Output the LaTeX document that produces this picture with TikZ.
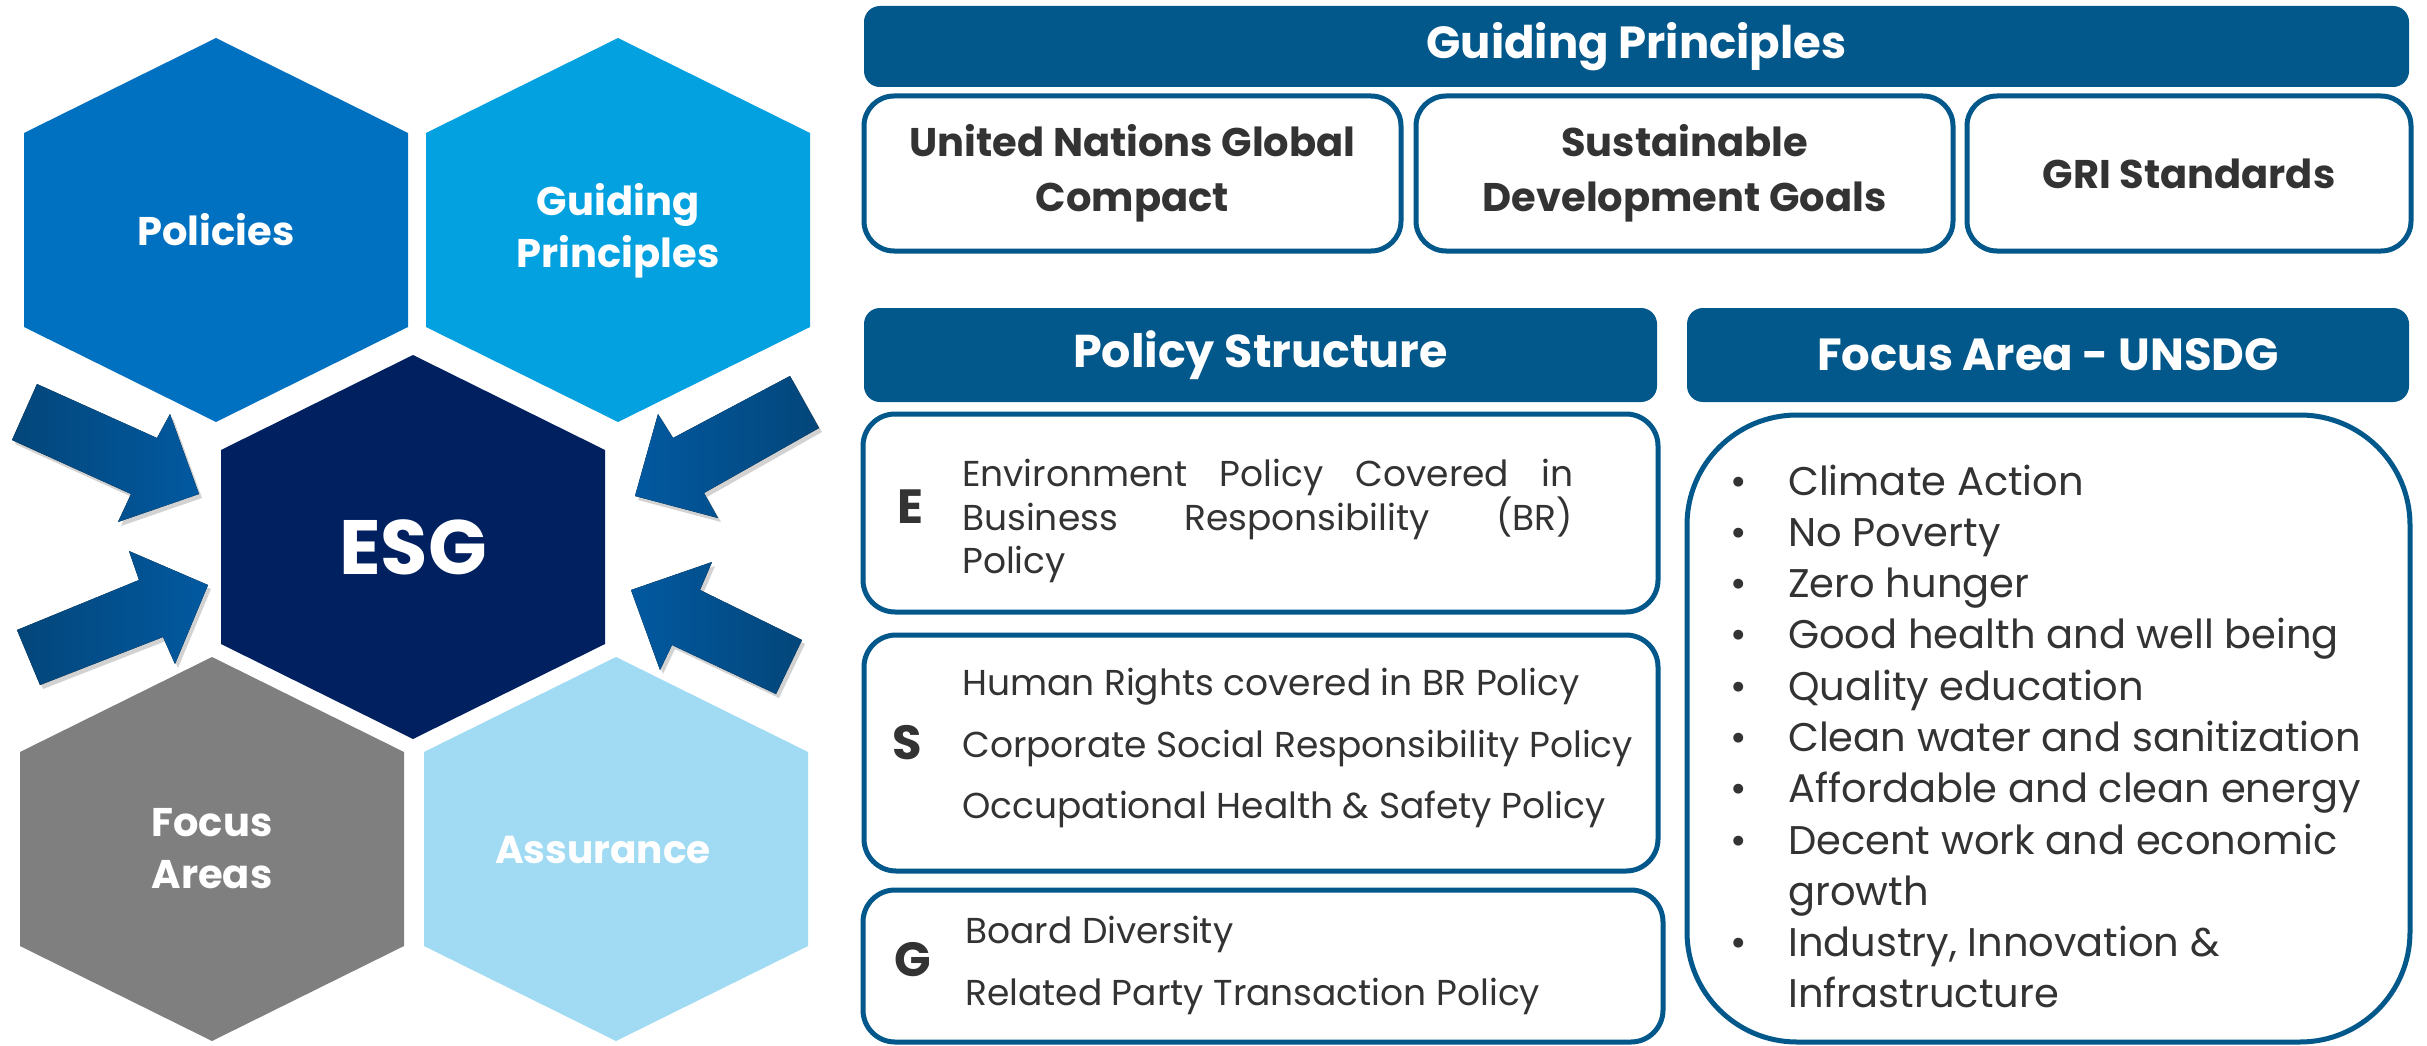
\documentclass[tikz,border=0pt]{standalone}
\usepackage{fontspec}
\setmainfont{Poppins}
\usetikzlibrary{shadows}
\definecolor{cPol}{HTML}{0070C0}
\definecolor{cGui}{HTML}{03A1E0}
\definecolor{cEsg}{HTML}{002060}
\definecolor{cFoc}{HTML}{7F7F7F}
\definecolor{cAss}{HTML}{A1DAF3}
\definecolor{cHead}{HTML}{02578B}
\definecolor{cArrA}{HTML}{03467A}
\definecolor{cArrB}{HTML}{0259A0}
\definecolor{cTxt}{HTML}{333333}
\tikzset{
  hexa/.pic={\path[pic actions] (0,-192) -- (192,-97) -- (192,97) -- (0,192) -- (-192,97) -- (-192,-97) -- cycle;},
  hexlabel/.style={text=white, font=\fontsize{40}{52}\selectfont\bfseries, align=center},
  header/.style={fill=cHead, rounded corners=16pt, text=white, font=\fontsize{45}{54}\selectfont\bfseries, inner sep=0pt},
  gbox/.style={draw=cHead, line width=5pt, fill=white, rounded corners=30pt, text=cTxt, font=\fontsize{40}{55}\selectfont\bfseries, align=center, inner sep=0pt, minimum height=155pt},
  pbox/.style={draw=cHead, line width=5pt, fill=white, rounded corners=32pt, inner sep=0pt},
  letter/.style={text=cTxt, font=\fontsize{48}{48}\selectfont\bfseries},
  ptext/.style={text=cTxt, font=\fontsize{36}{44}\selectfont, anchor=base west, inner sep=0pt},
  ftext/.style={text=cTxt, font=\fontsize{40}{51}\selectfont, anchor=base west, inner sep=0pt},
  blockarrow/.style={drop shadow={opacity=0.35, shadow xshift=3pt, shadow yshift=-4pt}},
}
\begin{document}
\begin{tikzpicture}[x=1pt,y=-1pt]
\useasboundingbox (0,0) rectangle (2427,1046);
\fill[white] (0,0) rectangle (2427,1046);
% hexagons
\pic[fill=cPol] at (216,230) {hexa};
\pic[fill=cGui] at (618,230) {hexa};
\pic[fill=cEsg] at (413,547) {hexa};
\pic[fill=cFoc] at (212,849) {hexa};
\pic[fill=cAss] at (616,849) {hexa};
\node[hexlabel] (pol) at (216,230) {Policies};
\node[hexlabel] (gui) at (618,231) {Guiding\\Principles};
\node[hexlabel, font=\fontsize{77}{79}\selectfont\bfseries] (esg) at (413,547) {ESG};
\node[hexlabel] (foc) at (212,849) {Focus\\Areas};
\node[hexlabel, font=\fontsize{39}{52}\selectfont\bfseries] (ass) at (603,850) {Assurance};
% block arrows
\fill[blockarrow, left color=cArrA, right color=cArrB] (37,384) -- (157,438) -- (170,414) -- (199,494) -- (118,522) -- (131,494) -- (12,440) -- cycle;
\fill[blockarrow, left color=cArrA, right color=cArrB] (17,630) -- (139,580) -- (129,551) -- (208,585) -- (175,664) -- (163,637) -- (40,685) -- cycle;
\fill[blockarrow, left color=cArrB, right color=cArrA] (790,376) -- (673,438) -- (658,414) -- (635,496) -- (718,518) -- (704,493) -- (819,428) -- cycle;
\fill[blockarrow, left color=cArrB, right color=cArrA] (802,640) -- (700,590) -- (712,562) -- (631,590) -- (660,670) -- (672,645) -- (776,694) -- cycle;
% guiding principles
\node[header, minimum width=1545pt, minimum height=81pt] (gph) at (1636.5,46.5) {Guiding Principles};
\node[gbox, minimum width=537pt] (ungc) at (1132.5,173.5) {United Nations Global\\Compact};
\node[gbox, minimum width=537pt] (sdg) at (1684.5,173.5) {Sustainable\\Development Goals};
\node[gbox, minimum width=444pt] (gri) at (2189,173.5) {GRI Standards};
% policy structure
\node[header, font=\fontsize{46}{54}\selectfont\bfseries, minimum width=793pt, minimum height=94pt] (psh) at (1260.5,355) {Policy Structure};
\node[pbox, minimum width=795pt, minimum height=198pt] (ebox) at (1260.5,513) {};
\node[pbox, minimum width=794pt, minimum height=236pt] (sbox) at (1261,753) {};
\node[pbox, minimum width=800pt, minimum height=152pt] (gbx) at (1263,966) {};
\node[letter] (eL) at (910,507) {E};
\node[letter] (sL) at (907,743) {S};
\node[letter] (gL) at (913,960) {G};
\node[ptext] (e1) at (962,486) {\makebox[611pt][s]{Environment Policy Covered in}};
\node[ptext] (e2) at (962,530) {\makebox[611pt][s]{Business Responsibility (BR)}};
\node[ptext] (e3) at (962,573) {Policy};
\node[ptext] (s1) at (962,695) {Human Rights covered in BR Policy};
\node[ptext] (s2) at (962,757) {Corporate Social Responsibility Policy};
\node[ptext] (s3) at (962,818) {Occupational Health \& Safety Policy};
\node[ptext] (g1) at (965,943) {Board Diversity};
\node[ptext] (g2) at (965,1005) {Related Party Transaction Policy};
% focus area
\node[header, minimum width=722pt, minimum height=94pt] (fah) at (2048,355) {Focus Area - UNSDG};
\node[pbox, rounded corners=110pt, minimum width=723pt, minimum height=627pt] (fbox) at (2048.5,728.5) {};
\foreach \t [count=\i] in {Climate Action, No Poverty, Zero hunger, Good health and well being, Quality education, Clean water and sanitization, Affordable and clean energy, Decent work and economic}{
  \node[ftext] (b\i) at (1730,{495+51.3*(\i-1)}) {\textbullet};
  \node[ftext] (f\i) at (1788,{495+51.3*(\i-1)}) {\t};
}
\node[ftext] (f9) at (1788,905) {growth};
\node[ftext] (b10) at (1730,956) {\textbullet};
\node[ftext] (f10) at (1788,956) {Industry, Innovation \&};
\node[ftext] (f11) at (1788,1007) {Infrastructure};
\end{tikzpicture}
\end{document}
